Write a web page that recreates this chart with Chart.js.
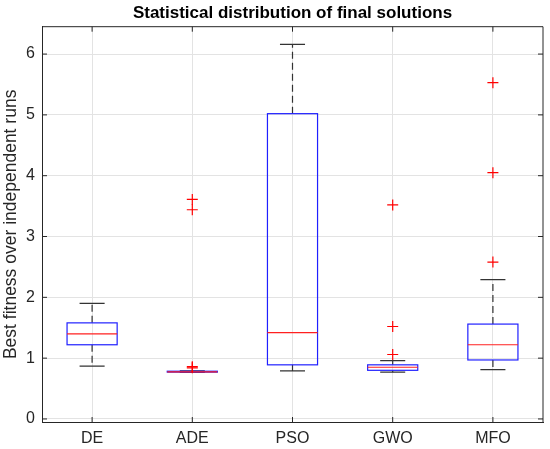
<!DOCTYPE html>
<html>
<head>
<meta charset="utf-8">
<title>Statistical distribution of final solutions</title>
<script src="https://cdn.jsdelivr.net/npm/chart.js@4.4.1/dist/chart.umd.min.js"></script>
<style>
  html, body { margin: 0; padding: 0; background: #fff; }
  #wrap { width: 550px; height: 449px; }
</style>
</head>
<body>
<div id="wrap"><canvas id="boxChart"></canvas></div>
<script>
// values
const categories = ['DE', 'ADE', 'PSO', 'GWO', 'MFO'];
const lowerWhisker = [0.87, 0.765, 0.79, 0.77, 0.81];
const q1 = [1.22, 0.77, 0.89, 0.80, 0.97];
const median = [1.40, 0.775, 1.42, 0.85, 1.22];
const q3 = [1.58, 0.785, 5.02, 0.89, 1.56];
const upperWhisker = [1.90, 0.79, 6.16, 0.96, 2.29];
const outliers = [
  [],
  [3.61, 3.44, 0.86, 0.84],
  [],
  [3.52, 1.52, 1.06],
  [5.53, 4.05, 2.58]
];
const yTicks = [0, 1, 2, 3, 4, 5, 6];

const axisColor = '#262626';
const boxWidth = 0.5;
const capWidth = 0.25;

const outlierPoints = [];
outliers.forEach((list, i) => {
  list.forEach(v => outlierPoints.push({ x: i + 1, y: v }));
});

// boxes, medians and whiskers, placed through the chart scales
const boxPlugin = {
  id: 'boxes',
  beforeDatasetsDraw(chart) {
    const { ctx, scales: { x, y } } = chart;
    ctx.save();
    ctx.lineWidth = 1.2;
    categories.forEach((c, i) => {
      const cx = x.getPixelForValue(i + 1);
      const bl = x.getPixelForValue(i + 1 - boxWidth / 2);
      const br = x.getPixelForValue(i + 1 + boxWidth / 2);
      const cl = x.getPixelForValue(i + 1 - capWidth / 2);
      const cr = x.getPixelForValue(i + 1 + capWidth / 2);
      const yLo = y.getPixelForValue(lowerWhisker[i]);
      const yQ1 = y.getPixelForValue(q1[i]);
      const yMed = y.getPixelForValue(median[i]);
      const yQ3 = y.getPixelForValue(q3[i]);
      const yHi = y.getPixelForValue(upperWhisker[i]);

      // dashed whiskers
      ctx.strokeStyle = '#333';
      ctx.setLineDash([7, 4]);
      ctx.beginPath();
      ctx.moveTo(cx, yQ3); ctx.lineTo(cx, yHi);
      ctx.moveTo(cx, yQ1); ctx.lineTo(cx, yLo);
      ctx.stroke();
      ctx.setLineDash([]);

      // caps
      ctx.beginPath();
      ctx.moveTo(cl, yHi); ctx.lineTo(cr, yHi);
      ctx.moveTo(cl, yLo); ctx.lineTo(cr, yLo);
      ctx.stroke();

      // box
      ctx.strokeStyle = '#2020ff';
      ctx.strokeRect(bl, yQ3, br - bl, yQ1 - yQ3);

      // median
      ctx.strokeStyle = '#ff2020';
      ctx.beginPath();
      ctx.moveTo(bl, yMed); ctx.lineTo(br, yMed);
      ctx.stroke();
    });
    ctx.restore();
  }
};

// closed axes box with inward ticks
const framePlugin = {
  id: 'frame',
  afterDraw(chart) {
    const { ctx, chartArea: a, scales: { x, y } } = chart;
    ctx.save();
    ctx.strokeStyle = axisColor;
    ctx.lineWidth = 1;
    ctx.beginPath();
    ctx.moveTo(a.left, a.top); ctx.lineTo(a.right, a.top); ctx.lineTo(a.right, a.bottom);
    x.ticks.forEach(t => {
      const px = x.getPixelForValue(t.value);
      ctx.moveTo(px, a.bottom); ctx.lineTo(px, a.bottom - 5);
      ctx.moveTo(px, a.top); ctx.lineTo(px, a.top + 5);
    });
    y.ticks.forEach(t => {
      const py = y.getPixelForValue(t.value);
      ctx.moveTo(a.left, py); ctx.lineTo(a.left + 5, py);
      ctx.moveTo(a.right, py); ctx.lineTo(a.right - 5, py);
    });
    ctx.stroke();
    ctx.restore();
  }
};

Chart.defaults.font.family = '"Liberation Sans", Arial, sans-serif';
Chart.defaults.color = axisColor;

new Chart(document.getElementById('boxChart'), {
  type: 'scatter',
  data: {
    datasets: [{
      label: 'Outliers',
      data: outlierPoints,
      pointStyle: 'cross',
      pointRadius: 5.5,
      pointHoverRadius: 5.5,
      borderColor: '#ff0000',
      backgroundColor: '#ff0000',
      borderWidth: 1.2
    }]
  },
  plugins: [boxPlugin, framePlugin],
  options: {
    responsive: true,
    maintainAspectRatio: false,
    animation: false,
    layout: { padding: { right: 7 } },
    plugins: {
      legend: { display: false },
      tooltip: { enabled: false },
      title: {
        display: true,
        text: 'Statistical distribution of final solutions',
        fullSize: false,
        color: '#000',
        font: { size: 17, weight: 'bold' },
        padding: { top: 3.4, bottom: 2.9 }
      }
    },
    scales: {
      x: {
        type: 'linear',
        min: 0.5,
        max: 5.5,
        afterBuildTicks: s => { s.ticks = categories.map((c, i) => ({ value: i + 1 })); },
        afterFit: s => { s.height = 27; },
        ticks: {
          callback: v => categories[v - 1],
          font: { size: 16 },
          padding: 7,
          maxRotation: 0
        },
        grid: { color: '#e3e3e3', drawTicks: false },
        border: { color: axisColor }
      },
      y: {
        min: -0.05,
        max: 6.45,
        afterBuildTicks: s => { s.ticks = yTicks.map(v => ({ value: v })); },
        afterFit: s => { s.width = 42; },
        ticks: {
          font: { size: 16 },
          padding: 7
        },
        grid: { color: '#e3e3e3', drawTicks: false },
        border: { color: axisColor },
        title: {
          display: true,
          text: 'Best fitness over independent runs',
          font: { size: 17.5 },
          padding: { top: 1, bottom: 0 }
        }
      }
    }
  }
});
</script>
</body>
</html>
